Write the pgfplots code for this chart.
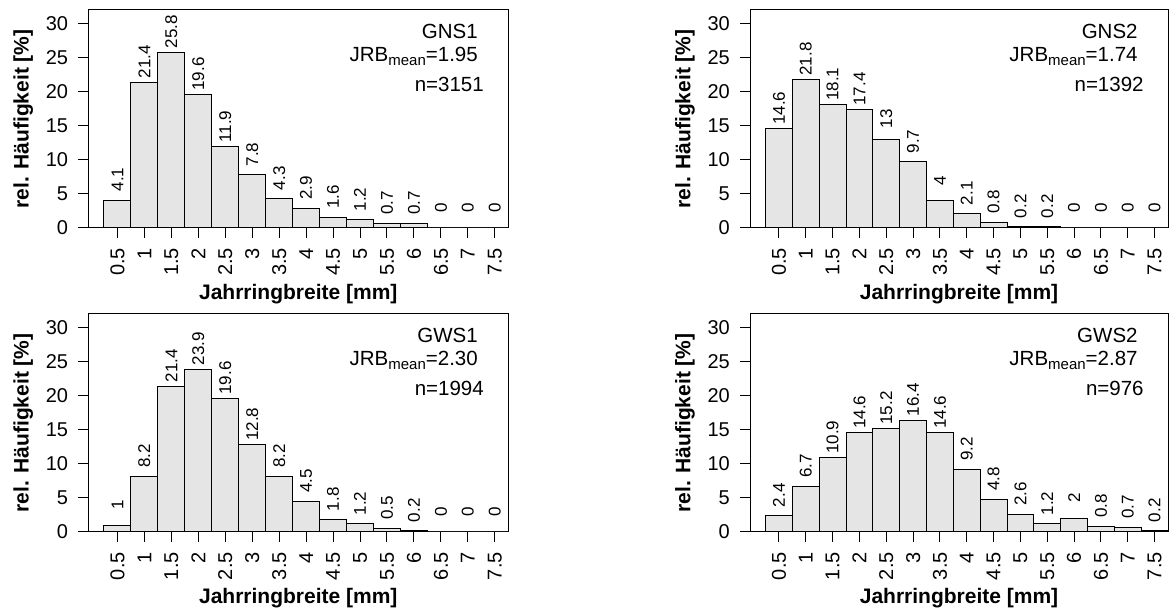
\documentclass[border=0pt]{standalone}
\usepackage{fontspec}
\setmainfont{Liberation Sans}
\usepackage{pgfplots}
\pgfplotsset{compat=1.18}
\usepackage{pgfplotstable}

\definecolor{barfill}{RGB}{229,229,229}

\pgfplotstableread{
x y
0 4.1
1 21.4
2 25.8
3 19.6
4 11.9
5 7.8
6 4.3
7 2.9
8 1.6
9 1.2
10 0.7
11 0.7
12 0
13 0
14 0
}\gnsA
\pgfplotstableread{
x y
0 14.6
1 21.8
2 18.1
3 17.4
4 13
5 9.7
6 4
7 2.1
8 0.8
9 0.2
10 0.2
11 0
12 0
13 0
14 0
}\gnsB
\pgfplotstableread{
x y
0 1
1 8.2
2 21.4
3 23.9
4 19.6
5 12.8
6 8.2
7 4.5
8 1.8
9 1.2
10 0.5
11 0.2
12 0
13 0
14 0
}\gwsA
\pgfplotstableread{
x y
0 2.4
1 6.7
2 10.9
3 14.6
4 15.2
5 16.4
6 14.6
7 9.2
8 4.8
9 2.6
10 1.2
11 2
12 0.8
13 0.7
14 0.2
}\gwsB

\newcommand{\tickfont}{\fontsize{20}{20}\selectfont}
\newcommand{\labfont}{\fontsize{21}{21}\selectfont\bfseries}
\newcommand{\valfont}{\fontsize{17}{17}\selectfont}
\newcommand{\annfont}{\fontsize{20.5}{20.5}\selectfont}
\newcommand{\JRB}[1]{JRB{\fontsize{15}{15}\selectfont\raisebox{-4pt}{mean}}=#1}

\pgfplotsset{
  hist/.style={
    scale only axis, height=218pt,
    xmin=-1.08, xmax=14.5, ymin=0, ymax=32,
    axis line style={line width=1pt, black},
    every tick/.style={black, line width=1pt},
    tick align=outside, major tick length=10pt,
    tick pos=left,
    xtick={0,...,14},
    xticklabels={0.5,1,1.5,2,2.5,3,3.5,4,4.5,5,5.5,6,6.5,7,7.5},
    ytick={0,5,...,30},
    /pgf/number format/assume math mode=true,
    x tick label style={rotate=90, anchor=east, inner sep=0pt, font=\tickfont},
    y tick label style={anchor=east, inner sep=0pt, font=\tickfont},
    xticklabel shift=10pt,
    yticklabel shift=10pt,
    xlabel={Jahrringbreite [mm]},
    ylabel={rel. Häufigkeit [\%]},
    every axis x label/.style={at={(axis description cs:0.5,0)}, yshift=-72pt, anchor=base, font=\labfont},
    every axis y label/.style={at={(axis description cs:0,0.5)}, xshift=-65pt, rotate=90, anchor=center, font=\labfont},
    ybar, bar width=1, bar shift=0pt,
    nodes near coords,
    nodes near coords style={yshift=20.44pt, rotate=90, anchor=center, inner sep=0pt, font=\valfont},
    clip=false,
  },
  bars/.style={fill=barfill, draw=black, line width=1pt},
}

\begin{document}
\begin{tikzpicture}
% top left
\begin{axis}[hist, width=420pt, at={(88.3pt,387pt)}, anchor=south west]
  \addplot[bars] table[x=x,y=y] {\gnsA};
  \node[anchor=base east, font=\annfont] at (axis description cs:0.9357,0.8702) {GNS1};
  \node[anchor=base east, font=\annfont] at (axis description cs:0.9357,0.7628) {\JRB{1.95}};
  \node[anchor=base east, font=\annfont] at (axis description cs:0.95,0.6284) {n=3151};
\end{axis}
% top right
\begin{axis}[hist, width=418pt, at={(750pt,387pt)}, anchor=south west]
  \addplot[bars] table[x=x,y=y] {\gnsB};
  \node[anchor=base east, font=\annfont] at (axis description cs:0.9357,0.8702) {GNS2};
  \node[anchor=base east, font=\annfont] at (axis description cs:0.9357,0.7628) {\JRB{1.74}};
  \node[anchor=base east, font=\annfont] at (axis description cs:0.95,0.6284) {n=1392};
\end{axis}
% bottom left
\begin{axis}[hist, width=420pt, at={(88.3pt,83pt)}, anchor=south west]
  \addplot[bars] table[x=x,y=y] {\gwsA};
  \node[anchor=base east, font=\annfont] at (axis description cs:0.9357,0.8702) {GWS1};
  \node[anchor=base east, font=\annfont] at (axis description cs:0.9357,0.7628) {\JRB{2.30}};
  \node[anchor=base east, font=\annfont] at (axis description cs:0.95,0.6284) {n=1994};
\end{axis}
% bottom right
\begin{axis}[hist, width=418pt, at={(750pt,83pt)}, anchor=south west]
  \addplot[bars] table[x=x,y=y] {\gwsB};
  \node[anchor=base east, font=\annfont] at (axis description cs:0.9357,0.8702) {GWS2};
  \node[anchor=base east, font=\annfont] at (axis description cs:0.9357,0.7628) {\JRB{2.87}};
  \node[anchor=base east, font=\annfont] at (axis description cs:0.95,0.6284) {n=976};
\end{axis}
\pgfresetboundingbox
\path[use as bounding box] (0,0) rectangle (1169pt,615pt);
\end{tikzpicture}
\end{document}
